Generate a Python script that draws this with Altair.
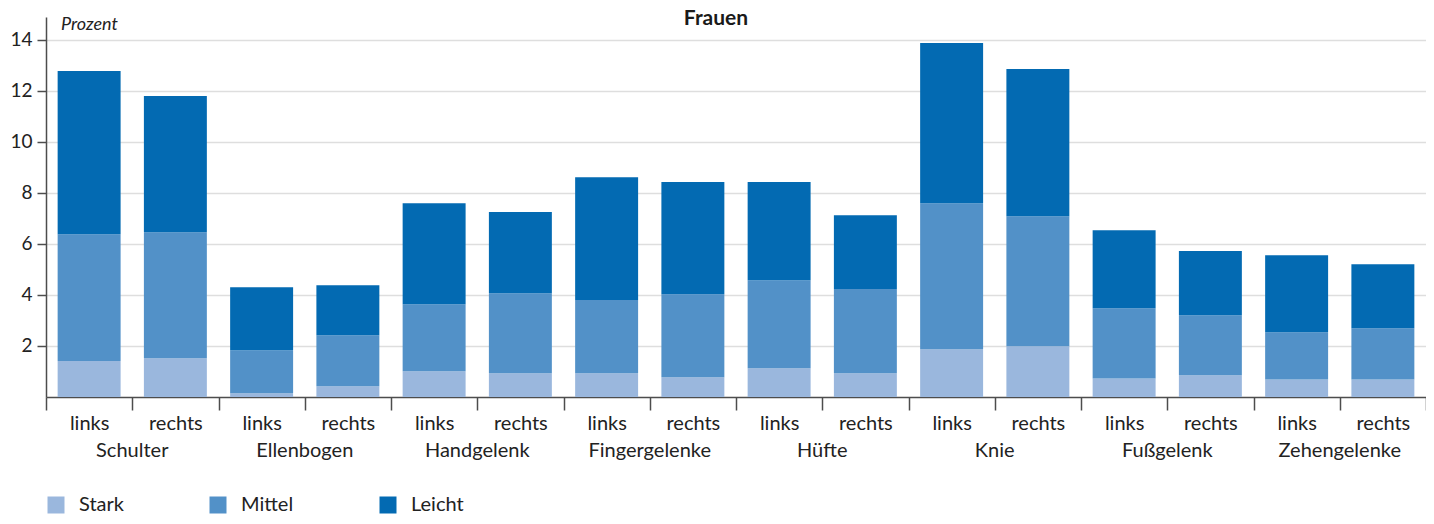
import altair as alt
import pandas as pd

groups = ["Schulter", "Ellenbogen", "Handgelenk", "Fingergelenke",
          "Hüfte", "Knie", "Fußgelenk", "Zehengelenke"]
sides = ["links", "rechts"]
levels = ["Stark", "Mittel", "Leicht"]
colors = ["#9ab7dd", "#5291c8", "#036ab2"]

# values per bar (order: group x side)
stark = [1.41, 1.52, 0.15, 0.42, 1.01, 0.93, 0.93, 0.77,
         1.13, 0.93, 1.87, 1.99, 0.73, 0.85, 0.69, 0.69]
mittel = [4.97, 4.94, 1.68, 2.00, 2.63, 3.14, 2.87, 3.26,
          3.45, 3.30, 5.73, 5.10, 2.75, 2.36, 1.85, 2.01]
leicht = [6.40, 5.34, 2.47, 1.96, 3.96, 3.18, 4.82, 4.40,
          3.85, 2.90, 6.28, 5.77, 3.06, 2.51, 3.02, 2.51]

keys = [f"{g}|{s}" for g in groups for s in sides]
rows = []
for i, k in enumerate(keys):
    g, s = k.split("|")
    for j, (lev, vals) in enumerate(zip(levels, [stark, mittel, leicht])):
        rows.append({"key": k, "group": g, "side": s, "level": lev,
                     "ord": j, "value": vals[i]})
df = pd.DataFrame(rows)
glabels = pd.DataFrame({"key": [f"{g}|links" for g in groups], "group": groups})

FONT = "Lato"
TXT = "#222222"
AX = "#4d4d4d"

xscale = alt.Scale(domain=keys, paddingInner=0, paddingOuter=0)

bars = alt.Chart(df).mark_bar(width=alt.RelativeBandSize(0.73)).encode(
    x=alt.X("key:N", scale=xscale, sort=keys,
            axis=alt.Axis(title=None, labelExpr="split(datum.label, '|')[1]",
                          tickBand="extent", tickSize=13, tickColor=AX, tickWidth=1.5,
                          domainColor=AX, domainWidth=1.5, labelAngle=0,
                          labelFont=FONT, labelFontSize=20, labelColor=TXT,
                          labelPadding=3, grid=False)),
    y=alt.Y("value:Q", stack="zero",
            scale=alt.Scale(domain=[0, 14.9], nice=False, zero=True),
            axis=alt.Axis(title=None, values=[2, 4, 6, 8, 10, 12, 14],
                          grid=True, gridColor="#dedede", gridWidth=1.5,
                          tickSize=9, tickColor=AX, tickWidth=1.5,
                          domainColor=AX, domainWidth=1.5,
                          labelFont=FONT, labelFontSize=19, labelColor=TXT,
                          labelPadding=5)),
    color=alt.Color("level:N", scale=alt.Scale(domain=levels, range=colors),
                    legend=alt.Legend(title=None, orient="none", legendX=0, legendY=478,
                                      direction="horizontal", symbolType="square",
                                      symbolSize=289, symbolStrokeWidth=0,
                                      labelOffset=13, columnPadding=84,
                                      labelFont=FONT, labelFontSize=20, labelColor=TXT)),
    order=alt.Order("ord:Q", sort="ascending"),
)

group_text = alt.Chart(glabels).mark_text(
    font=FONT, fontSize=20, color=TXT, baseline="alphabetic", align="center"
).encode(
    x=alt.X("key:N", scale=xscale, sort=keys, bandPosition=1),
    y=alt.value(440),
    text="group:N",
)

prozent = alt.Chart(pd.DataFrame({"t": ["Prozent"]})).mark_text(
    font=FONT, fontSize=18, fontStyle="italic", color=TXT,
    baseline="alphabetic", align="left"
).encode(x=alt.value(15), y=alt.value(13), text="t:N")

title = alt.Chart(pd.DataFrame({"t": ["Frauen"]})).mark_text(
    font=FONT, fontSize=21, fontWeight="bold", color="#1a1a1a",
    baseline="alphabetic", align="center"
).encode(x=alt.value(670), y=alt.value(8), text="t:N")

chart = alt.layer(bars, group_text, prozent, title).properties(
    width=1380, height=380,
    autosize=alt.AutoSizeParams(type="none"),
    padding={"left": 38, "top": 9, "right": 0, "bottom": 118},
).configure_view(strokeWidth=0)

chart.save("out.html", embed_options={"renderer": "svg", "actions": False})
